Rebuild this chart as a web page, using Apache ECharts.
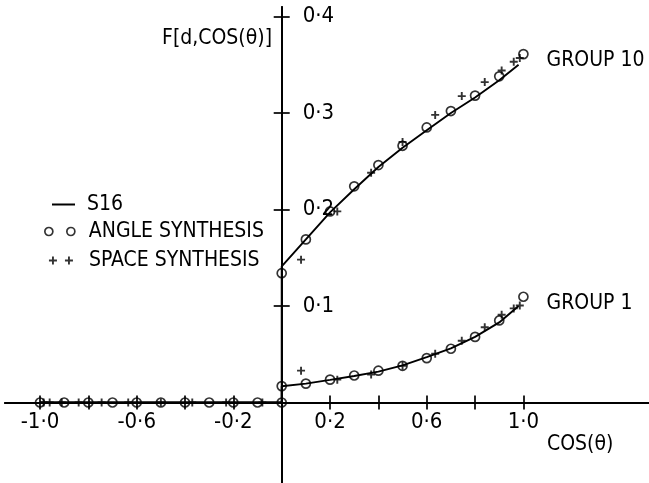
<!DOCTYPE html>
<html>
<head>
<meta charset="utf-8">
<script src="https://cdn.jsdelivr.net/npm/echarts@6/dist/echarts.min.js"></script>
<style>
  html, body { margin: 0; padding: 0; background: #fff; }
  #chart { width: 649px; height: 483px; }
</style>
</head>
<body>
<div id="chart"></div>
<script>
// ---- data ----
// incoming directions (cos < 0): flux is zero
const incomingMu   = [-1.0, -0.9, -0.8, -0.7, -0.6, -0.5, -0.4, -0.3, -0.2, -0.1, 0.0];
const incomingVal  = [0, 0, 0, 0, 0, 0, 0, 0, 0, 0, 0];
const spaceNegMu   = [-0.985, -0.96, -0.91, -0.84, -0.745, -0.635, -0.50, -0.37, -0.23, -0.08];
const spaceNegVal  = [0, 0, 0, 0, 0, 0, 0, 0, 0, 0];

// S16 curves
const s16NegMu     = [-1.0, 0.0];
const s16NegVal    = [0, 0];
const s16Mu        = [0.0, 0.1, 0.2, 0.3, 0.4, 0.5, 0.6, 0.7, 0.8, 0.9, 0.98];
const s16Group1    = [0.0168, 0.0196, 0.0235, 0.0275, 0.032, 0.0385, 0.047, 0.056, 0.068, 0.083, 0.100];
const s16Group10   = [0.141, 0.169, 0.197, 0.221, 0.244, 0.264, 0.282, 0.300, 0.316, 0.334, 0.350];

// angle synthesis
const angleMu      = [0.0, 0.1, 0.2, 0.3, 0.4, 0.5, 0.6, 0.7, 0.8, 0.9, 1.0];
const angleGroup1  = [0.017, 0.0196, 0.0237, 0.028, 0.033, 0.038, 0.046, 0.0557, 0.068, 0.085, 0.1096];
const angleGroup10 = [0.134, 0.169, 0.198, 0.224, 0.246, 0.266, 0.285, 0.302, 0.318, 0.338, 0.361];

// space synthesis
const spaceMu      = [0.08, 0.23, 0.37, 0.50, 0.635, 0.745, 0.84, 0.91, 0.96, 0.985];
const spaceGroup1  = [0.033, 0.0237, 0.029, 0.038, 0.0505, 0.064, 0.078, 0.091, 0.0975, 0.1005];
const spaceGroup10 = [0.148, 0.198, 0.238, 0.270, 0.298, 0.3175, 0.332, 0.344, 0.353, 0.357];

// axes
const xTicks  = [-1.0, -0.8, -0.6, -0.4, -0.2, 0.2, 0.4, 0.6, 0.8, 1.0];
const xLabels = [-1.0, -0.6, -0.2, 0.2, 0.6, 1.0];
const yTicks  = [0.1, 0.2, 0.3, 0.4];
const yLabels = [0.1, 0.2, 0.3, 0.4];
const groupNames = ['GROUP 1', 'GROUP 10'];

// ---- chart ----
const FONT = "'Liberation Sans Narrow', 'DejaVu Sans Condensed', 'Liberation Sans', sans-serif";
const INK = '#000';
const pair = (xs, ys) => xs.map((x, i) => [x, ys[i]]);
const fmt = v => Number(v).toFixed(1).replace('.', '\u00B7');

const XMIN = -1.1448, XMAX = 1.5196, YMIN = -0.0834, YMAX = 0.4098;
const GRID = { left: 5, right: 0, top: 7, bottom: 0 };
const W = 649, H = 483;
// where the zero lines fall inside the grid (for the label-only axes)
const zeroXOffset = (W - GRID.left - GRID.right) * (0 - XMIN) / (XMAX - XMIN);
const zeroYOffset = (H - GRID.top - GRID.bottom) * (0 - YMIN) / (YMAX - YMIN);

const xBase = {
  type: 'value', min: XMIN, max: XMAX,
  splitLine: { show: false },
  axisLine: { onZero: true, lineStyle: { color: INK, width: 1.9 } },
  axisTick: { show: true, customValues: xTicks, length: 7, lineStyle: { color: INK, width: 1.7 } },
  axisLabel: { show: false }
};
const yBase = {
  type: 'value', min: YMIN, max: YMAX,
  splitLine: { show: false },
  axisLine: { onZero: true, lineStyle: { color: INK, width: 1.9 } },
  axisTick: { show: true, customValues: yTicks, length: 8, lineStyle: { color: INK, width: 1.7 } },
  axisLabel: { show: false }
};

const circleIcon2 = 'path://M8,4A4,4,0,1,1,0,4A4,4,0,1,1,8,4ZM30,4A4,4,0,1,1,22,4A4,4,0,1,1,30,4Z';
const plusIcon2 = 'path://M0,4H8M4,0V8M16,4H24M20,0V8';
const plusSym = 'path://M0,5H10M5,0V10';

const circleStyle = { color: 'rgba(0,0,0,0)', borderColor: INK, borderWidth: 1.7 };
const plusStyle = { color: 'rgba(0,0,0,0)', borderColor: INK, borderWidth: 1.9 };

const lineSeries = (vals, label, dy) => ({
  name: 'S16', type: 'line', xAxisIndex: 0, yAxisIndex: 0,
  data: pair(s16NegMu, s16NegVal).concat(pair(s16Mu, vals)),
  symbol: 'none', smooth: false,
  lineStyle: { color: INK, width: 1.9 },
  itemStyle: { color: INK },
  endLabel: {
    show: true, formatter: label, distance: 28, offset: [0, dy],
    color: INK, fontSize: 21, fontFamily: FONT
  },
  emphasis: { disabled: true }, silent: true, z: 3
});

const option = {
  backgroundColor: '#fff',
  animation: false,
  grid: Object.assign({ containLabel: false, outerBoundsMode: 'none' }, GRID),
  xAxis: [
    Object.assign({}, xBase, { position: 'bottom' }),
    Object.assign({}, xBase, { position: 'top' }),
    {
      type: 'value', min: XMIN, max: XMAX, position: 'bottom',
      offset: -zeroYOffset,
      splitLine: { show: false },
      axisLine: { show: false, onZero: false },
      axisTick: { show: false },
      axisLabel: { customValues: xLabels, formatter: fmt, margin: 9, color: INK, fontSize: 22, fontFamily: FONT }
    }
  ],
  yAxis: [
    Object.assign({}, yBase, { position: 'left' }),
    Object.assign({}, yBase, { position: 'right' }),
    {
      type: 'value', min: YMIN, max: YMAX, position: 'left',
      offset: -zeroXOffset,
      splitLine: { show: false },
      axisLine: { show: false, onZero: false },
      axisTick: { show: false },
      axisLabel: { inside: true, customValues: yLabels, formatter: fmt, margin: 21, color: INK, fontSize: 22, fontFamily: FONT }
    }
  ],
  legend: [
    {
      data: [{ name: 'S16', icon: 'rect' }], left: 52, top: 194, padding: 0, itemWidth: 23, itemHeight: 2,
      itemStyle: { color: INK, borderWidth: 0 },
      textStyle: { color: INK, fontSize: 21, fontFamily: FONT, padding: [0, 0, 0, 7] },
      selectedMode: false
    },
    {
      data: [{ name: 'ANGLE SYNTHESIS', icon: circleIcon2 }], left: 44, top: 221, padding: 0,
      itemWidth: 30, itemHeight: 8,
      itemStyle: { color: 'rgba(0,0,0,0)', borderColor: INK, borderWidth: 1.7 },
      textStyle: { color: INK, fontSize: 21, fontFamily: FONT, padding: [0, 0, 0, 9] },
      selectedMode: false
    },
    {
      data: [{ name: 'SPACE SYNTHESIS', icon: plusIcon2 }], left: 48, top: 250, padding: 0,
      itemWidth: 24, itemHeight: 8,
      itemStyle: { color: 'rgba(0,0,0,0)', borderColor: INK, borderWidth: 1.9 },
      textStyle: { color: INK, fontSize: 21, fontFamily: FONT, padding: [0, 0, 0, 11] },
      selectedMode: false
    }
  ],
  graphic: [
    { type: 'text', right: W - 272, top: 28, style: { text: 'F[d,COS(\u03B8)]', fill: INK, font: '21px ' + FONT } },
    { type: 'text', left: 547, top: 434, style: { text: 'COS(\u03B8)', fill: INK, font: '21px ' + FONT } }
  ],
  series: [
    lineSeries(s16Group1, groupNames[0], -2),
    lineSeries(s16Group10, groupNames[1], -4),
    {
      name: 'ANGLE SYNTHESIS', type: 'scatter', symbol: 'circle', symbolSize: 9,
      data: pair(incomingMu, incomingVal).concat(pair(angleMu, angleGroup1)),
      itemStyle: circleStyle, emphasis: { disabled: true }, silent: true, z: 4
    },
    {
      name: 'ANGLE SYNTHESIS', type: 'scatter', symbol: 'circle', symbolSize: 9,
      data: pair(angleMu, angleGroup10),
      itemStyle: circleStyle, emphasis: { disabled: true }, silent: true, z: 4
    },
    {
      name: 'SPACE SYNTHESIS', type: 'scatter', symbol: plusSym, symbolSize: 8,
      data: pair(spaceNegMu, spaceNegVal).concat(pair(spaceMu, spaceGroup1)),
      itemStyle: plusStyle, emphasis: { disabled: true }, silent: true, z: 4
    },
    {
      name: 'SPACE SYNTHESIS', type: 'scatter', symbol: plusSym, symbolSize: 8,
      data: pair(spaceMu, spaceGroup10),
      itemStyle: plusStyle, emphasis: { disabled: true }, silent: true, z: 4
    }
  ]
};

const chart = echarts.init(document.getElementById('chart'), null, { renderer: 'canvas' });
chart.setOption(option);
</script>
</body>
</html>
